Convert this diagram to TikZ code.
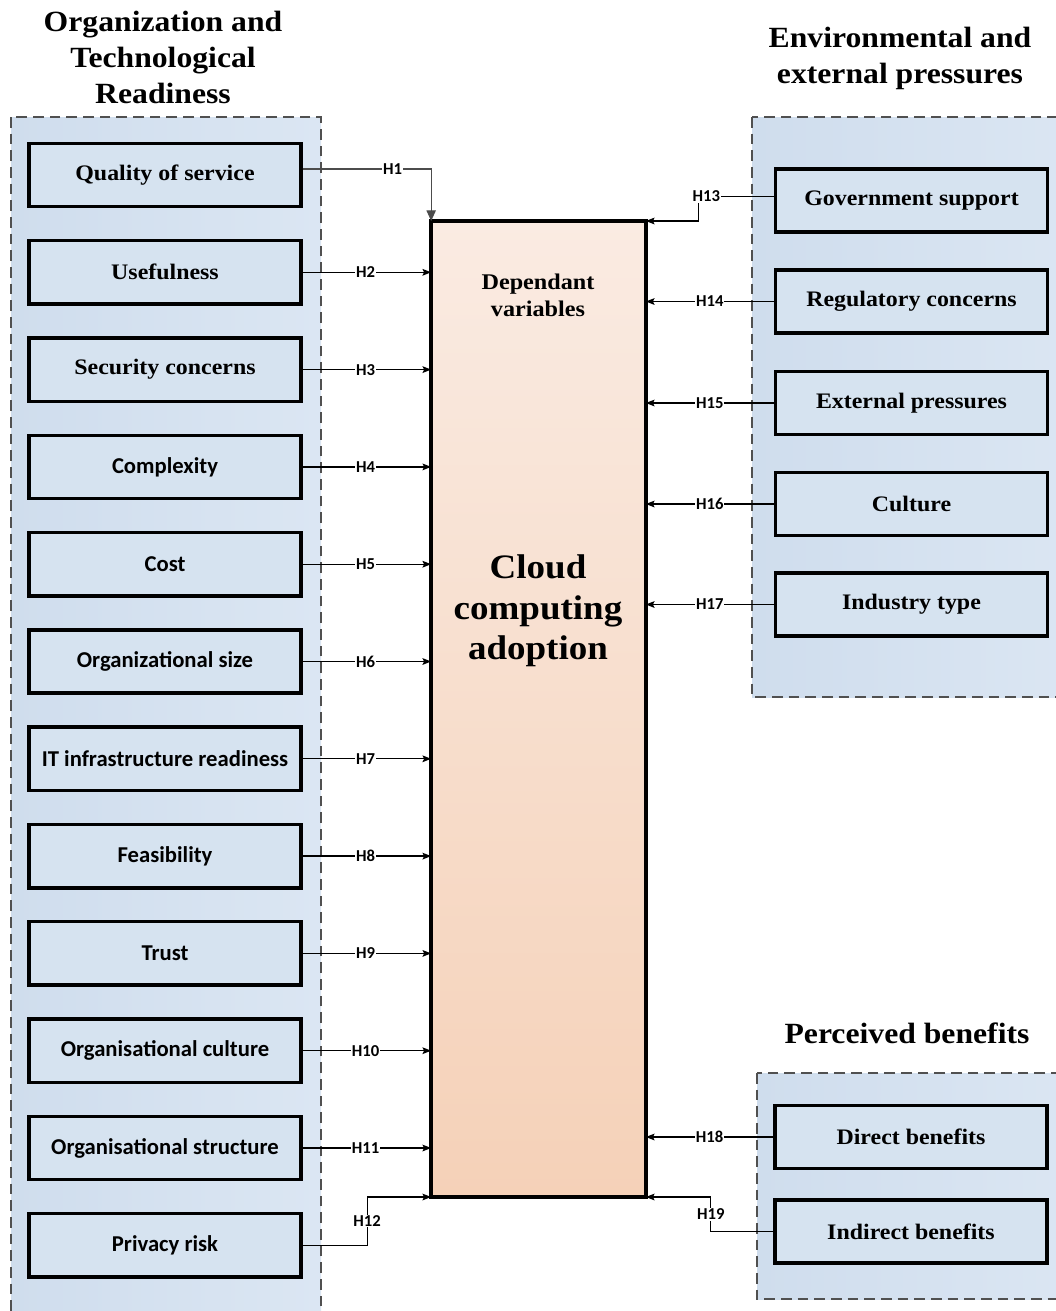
\documentclass[tikz,border=0pt]{standalone}
\usepackage{fontspec}
\setmainfont{Liberation Serif}
\newfontfamily\camfnt[FakeStretch=1.08]{Liberation Serif}
\newfontfamily\calfnt{Carlito}
\usetikzlibrary{arrows.meta,calc}
\definecolor{grpL}{RGB}{207,221,237}
\definecolor{grpR}{RGB}{219,230,243}
\definecolor{boxfill}{RGB}{214,227,240}
\definecolor{peachT}{RGB}{250,235,226}
\definecolor{peachB}{RGB}{245,209,184}
\definecolor{dashc}{RGB}{80,80,80}
\tikzset{
  grp/.style={draw=dashc, line width=0.9pt, dash pattern=on 8pt off 4.5pt, left color=grpL, right color=grpR},
  fbox/.style={draw=black, line width=2.6pt, fill=boxfill, minimum width=204pt, minimum height=47.5pt, inner sep=0pt, align=center},
  sbox/.style={fbox, font=\camfnt\bfseries\fontsize{16.6}{20}\selectfont},
  cbox/.style={fbox, font=\calfnt\bfseries\fontsize{17}{20}\selectfont},
  ttl/.style={font=\camfnt\bfseries\fontsize{22}{27}\selectfont, align=center, inner sep=0pt},
  hlab/.style={font=\calfnt\bfseries\fontsize{12.5}{14}\selectfont, fill=white, inner sep=0.6pt},
  arr/.style={line width=0.95pt, -{Stealth[length=6.5pt,width=5pt,inset=1.2pt]}},
}
\begin{document}
\begin{tikzpicture}[x=0.75pt,y=-0.75pt]
\useasboundingbox (0,0) rectangle (1056,1311);
\fill[white] (0,0) rectangle (1056,1311);
% groups
\path[grp] (11,117) rectangle (321,1340);
\path[grp] (752,117) rectangle (1075,697);
\path[grp] (757,1073) rectangle (1075,1299);
% titles
\node[ttl] (t1) at (163,57) {Organization and\\Technological\\Readiness};
\node[ttl] (t2) at (900,58) {Environmental and\\external pressures};
\node[ttl] (t3) at (907,1033) {Perceived benefits};
% central box
\node[draw=black, line width=2.6pt, top color=peachT, bottom color=peachB, minimum width=161pt, minimum height=732pt, inner sep=0pt, outer sep=0pt] (cb) at (538.5,709) {};
\node[font=\camfnt\bfseries\fontsize{16.8}{20}\selectfont, align=center] (dv) at (538,295) {Dependant\\variables};
\node[font=\camfnt\bfseries\fontsize{25.7}{30.5}\selectfont, align=center] (cca) at (538,611) {Cloud\\computing\\adoption};
% left boxes
\node[sbox] (b1) at (165,175) {Quality of service};
\node[sbox] (b2) at (165,272.3) {Usefulness};
\node[sbox] (b3) at (165,369.6) {Security concerns};
\node[cbox] (b4) at (165,466.9) {Complexity};
\node[cbox] (b5) at (165,564.2) {Cost};
\node[cbox] (b6) at (165,661.5) {Organizational size};
\node[cbox] (b7) at (165,758.8) {IT infrastructure readiness};
\node[cbox] (b8) at (165,856.1) {Feasibility};
\node[cbox] (b9) at (165,953.4) {Trust};
\node[cbox] (b10) at (165,1050.7) {Organisational culture};
\node[cbox] (b11) at (165,1148) {Organisational structure};
\node[cbox] (b12) at (165,1245.3) {Privacy risk};
% right boxes
\node[sbox] (r1) at (911.5,200.5) {Government support};
\node[sbox] (r2) at (911.5,301.5) {Regulatory concerns};
\node[sbox] (r3) at (911.5,403) {External pressures};
\node[sbox] (r4) at (911.5,504) {Culture};
\node[sbox] (r5) at (911.5,604.5) {Industry type};
\node[sbox] (p1) at (911,1137) {Direct benefits};
\node[sbox] (p2) at (911,1231.5) {Indirect benefits};
% connectors left
\draw[arr, draw=black!70, -{Stealth[length=8pt,width=7pt,inset=0pt]}] ($(b1.east)+(0,-6)$) -| node[hlab, pos=0.35] {H1} (cb.north west);
\foreach \i in {2,...,11}{
  \draw[arr] (b\i.east) -- (cb.west |- b\i.east) node[hlab, pos=0.49] {H\i};
}
\coordinate (k12) at ($(cb.south west)+(-64,0)$);
\draw[arr] (b12.east) -| node[hlab, pos=0.75] {H12} (k12) -- (cb.south west);
% connectors right
\coordinate (k13) at ($(cb.north east)+(53,0)$);
\draw[arr] ($(r1.west)+(0,-4)$) -| node[hlab, pos=0.45] {H13} (k13) -- (cb.north east);
\draw[arr] (r2.west) -- (cb.east |- r2.west) node[hlab, pos=0.5] {H14};
\draw[arr] (r3.west) -- (cb.east |- r3.west) node[hlab, pos=0.5] {H15};
\draw[arr] (r4.west) -- (cb.east |- r4.west) node[hlab, pos=0.5] {H16};
\draw[arr] (r5.west) -- (cb.east |- r5.west) node[hlab, pos=0.5] {H17};
\draw[arr] (p1.west) -- (cb.east |- p1.west) node[hlab, pos=0.5] {H18};
\coordinate (k19) at ($(cb.south east)+(65,0)$);
\draw[arr] (p2.west) -| node[hlab, pos=0.75] {H19} (k19) -- (cb.south east);
\end{tikzpicture}
\end{document}
